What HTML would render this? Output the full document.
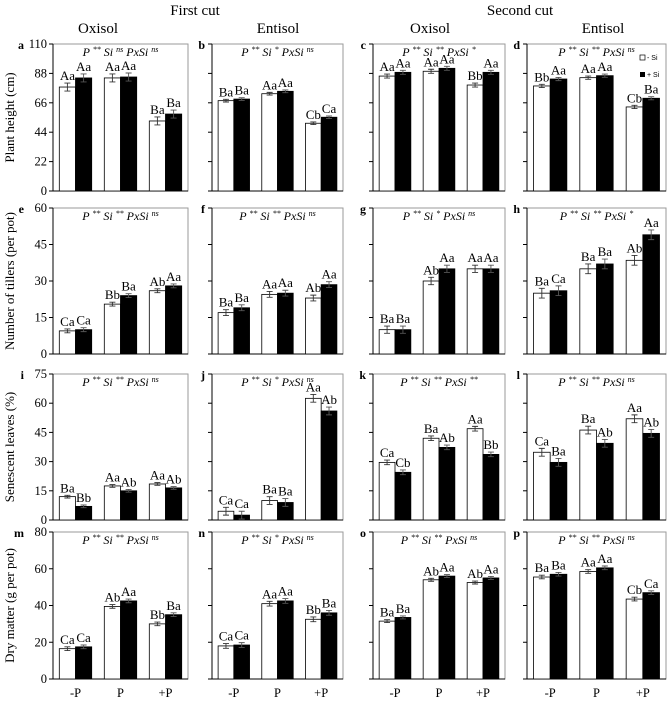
<!DOCTYPE html>
<html><head><meta charset="utf-8">
<style>
body{margin:0;background:#fff;}
svg{display:block;font-family:"Liberation Serif",serif;}
</style></head>
<body>
<svg id="chart" width="669" height="704" viewBox="0 0 669 704" xmlns="http://www.w3.org/2000/svg">
<text x="195" y="15" font-size="15" text-anchor="middle">First cut</text>
<text x="520" y="15" font-size="15" text-anchor="middle">Second cut</text>
<text x="98" y="33" font-size="15" text-anchor="middle">Oxisol</text>
<text x="278" y="33" font-size="15" text-anchor="middle">Entisol</text>
<text x="430" y="33" font-size="15" text-anchor="middle">Oxisol</text>
<text x="603" y="33" font-size="15" text-anchor="middle">Entisol</text>
<g id="plots"></g>
<g font-family="Liberation Sans, sans-serif" font-size="7">
<rect x="640" y="55" width="5" height="5" fill="#fff" stroke="#000" stroke-width="0.7"/>
<text x="647" y="60">- Si</text>
<rect x="640" y="72" width="5" height="5" fill="#000"/>
<text x="647" y="77">+ Si</text>
</g>
</svg>
<script>
const categories=["-P","P","+P"];
const rowMax=[110,60,75,80];
const rowTicks=[["0","22","44","66","88","110"],["0","15","30","45","60"],["0","15","30","45","60","75"],["0","20","40","60","80"]];
const rowTitles=["Plant height (cm)","Number of tillers (per pot)","Senescent leaves (%)","Dry matter (g per pot)"];
const panelLetters=["a","b","c","d","e","f","g","h","i","j","k","l","m","n","o","p"];
// values: per panel [ -P, P, +P ]
const heightMinusSi=[[77.8,84.6,52.4],[67.6,72.8,50.7],[86,89.6,79.3],[78.6,84.8,62.9]];
const heightPlusSi=[[84.6,85.3,57.6],[68.8,74.6,55.2],[88.8,91.8,88.8],[83.8,86.3,69.4]];
const heightErr=[[3,3,3],[1,1,1],[1.5,1.5,1.5],[1.2,1.2,1.2]];
const tillersMinusSi=[[9.5,20.5,26],[17,24.5,23],[10,30,35],[25,35,38.5]];
const tillersPlusSi=[[10,24,28],[19,25,28.5],[10,35,35],[26,37,49]];
const tillersErr=[[0.8,0.8,0.8],[1.2,1.2,1.2],[1.5,1.5,1.5],[2,2,2]];
const senescMinusSi=[[12,17.5,18.5],[4.5,10,62.5],[29.6,42,46.9],[34.8,46.2,52]];
const senescPlusSi=[[7,15,16.5],[2.5,9,56],[24.5,37.3,33.7],[29.6,39.4,44.5]];
const senescErr=[[0.7,0.7,0.7],[2,2,2],[1.2,1.2,1.2],[2,2,2]];
const drymMinusSi=[[16.5,39.5,30],[18,41,32.5],[31.5,54,52.5],[55.5,58.5,43.5]];
const drymPlusSi=[[17.5,42.5,35],[18.5,42.5,36],[33.5,56,55],[57,60.5,47]];
const drymErr=[[1,1,1],[1.3,1.3,1.3],[0.8,0.8,0.8],[1,1,1]];
const heightLetters=[["Aa","Aa","Aa","Aa","Ba","Ba"],["Ba","Ba","Aa","Aa","Cb","Ca"],["Aa","Aa","Aa","Aa","Bb","Aa"],["Bb","Aa","Aa","Aa","Cb","Ba"]];
const tillersLetters=[["Ca","Ca","Bb","Ba","Ab","Aa"],["Ba","Ba","Aa","Aa","Ab","Aa"],["Ba","Ba","Ab","Aa","Aa","Aa"],["Ba","Ca","Ba","Ba","Ab","Aa"]];
const senescLetters=[["Ba","Bb","Aa","Ab","Aa","Ab"],["Ca","Ca","Ba","Ba","Aa","Ab"],["Ca","Cb","Ba","Ab","Aa","Bb"],["Ca","Ba","Ba","Ab","Aa","Ab"]];
const drymLetters=[["Ca","Ca","Ab","Aa","Bb","Ba"],["Ca","Ca","Aa","Aa","Bb","Ba"],["Ba","Ba","Ab","Aa","Ab","Aa"],["Ba","Ba","Aa","Aa","Cb","Ca"]];
const annotations=[
[["**","ns","ns"],["**","*","ns"],["**","**","*"],["**","**","ns"]],
[["**","**","ns"],["**","**","ns"],["**","*","ns"],["**","**","*"]],
[["**","**","ns"],["**","*","ns"],["**","**","**"],["**","**","ns"]],
[["**","**","ns"],["**","*","ns"],["**","**","ns"],["**","**","ns"]]];

const minusRows=[heightMinusSi,tillersMinusSi,senescMinusSi,drymMinusSi];
const plusRows=[heightPlusSi,tillersPlusSi,senescPlusSi,drymPlusSi];
const errRows=[heightErr,tillersErr,senescErr,drymErr];
const letterRows=[heightLetters,tillersLetters,senescLetters,drymLetters];
const colLeft=[53,212,373,527], colW=[135,131,132,139];
const rowTop=[44,208,374,532], rowBot=[191,354,520,679];
const NS="http://www.w3.org/2000/svg";
const root=document.getElementById('plots');
function mk(tag,attrs,parent){const e=document.createElementNS(NS,tag);for(const k in attrs)e.setAttribute(k,attrs[k]);(parent||root).appendChild(e);return e;}

for(let r=0;r<4;r++){
  const yS=v=>rowBot[r]-v/rowMax[r]*(rowBot[r]-rowTop[r]);
  const yt=mk('text',{x:14,y:(rowTop[r]+rowBot[r])/2,'font-size':13,'text-anchor':'middle',transform:`rotate(-90 14 ${(rowTop[r]+rowBot[r])/2})`});
  
  
  yt.textContent=rowTitles[r];
  for(let c=0;c<4;c++){
    const L=colLeft[c],W=colW[c],T=rowTop[r],B=rowBot[r];
    const g=mk('g',{});
    
    
    const fr=mk('rect',{x:L,y:T,width:W,height:B-T,fill:'none',stroke:'#9a9a9a','stroke-width':1},g);
    
    
    const ax=mk('line',{x1:L,y1:T,x2:L,y2:B,stroke:'#000','stroke-width':1},g);
    
    
    const bx=mk('line',{x1:L,y1:B,x2:L+W,y2:B,stroke:'#000','stroke-width':1},g);
    
    
    const pl=mk('text',{x:L-(c==0?29:7),y:T+5,'font-size':12,'font-weight':'bold','text-anchor':'end'},g);
    
    
    pl.textContent=panelLetters[r*4+c];
    rowTicks[r].forEach(t=>{
      const y=yS(+t);
      const tk=mk('line',{x1:L-4,y1:y,x2:L,y2:y,stroke:'#000','stroke-width':1},g);
      
      
      if(c==0){
        const tl=mk('text',{x:L-6,y:y+4,'font-size':12.5,'text-anchor':'end'},g);
        
        
        tl.textContent=t;
      }
    });
    const an=annotations[r][c];
    const at=mk('text',{x:L+W/2,y:T+12,'font-size':12,'font-style':'italic','text-anchor':'middle'},g);
    
    
    at.setAttribute('xml:space','preserve');
    const parts=[["P ",an[0]],["   Si ",an[1]],["   PxSi ",an[2]]];
    parts.forEach(p=>{const a=mk('tspan',{},at);a.textContent=p[0];const s=mk('tspan',{'font-size':8,dy:-4},at);s.textContent=p[1];const z=mk('tspan',{dy:4},at);z.textContent=' ';});
    const bw=W*0.12;
    for(let i=0;i<3;i++){
      const cx=L+W*(i+0.5)/3;
      [[minusRows[r][c][i],'#fff',cx-bw,0],[plusRows[r][c][i],'#000',cx,1]].forEach(([v,fill,x0,s])=>{
        const y=yS(v);
        const bar=mk('rect',{x:x0,y:y,width:bw,height:B-y,fill:fill,stroke:'#000','stroke-width':0.8},g);
        
        
        const e=errRows[r][c][i];
        const ex=x0+bw/2,y1=yS(v+e),y2=yS(v-e);
        const eb=mk('path',{d:`M${ex},${y1}V${y2}M${ex-3},${y1}H${ex+3}M${ex-3},${y2}H${ex+3}`,stroke:s?'#555':'#333','stroke-width':0.9,fill:'none'},g);
        
        
        const lt=mk('text',{x:ex,y:y1-3,'font-size':13,'text-anchor':'middle'},g);
        
        
        lt.textContent=letterRows[r][c][i*2+s];
      });
      if(r==3){
        const xl=mk('text',{x:cx,y:697,'font-size':12.5,'text-anchor':'middle'},g);
        
        
        xl.textContent=categories[i];
      }
    }
  }
}
</script>
</body></html>
